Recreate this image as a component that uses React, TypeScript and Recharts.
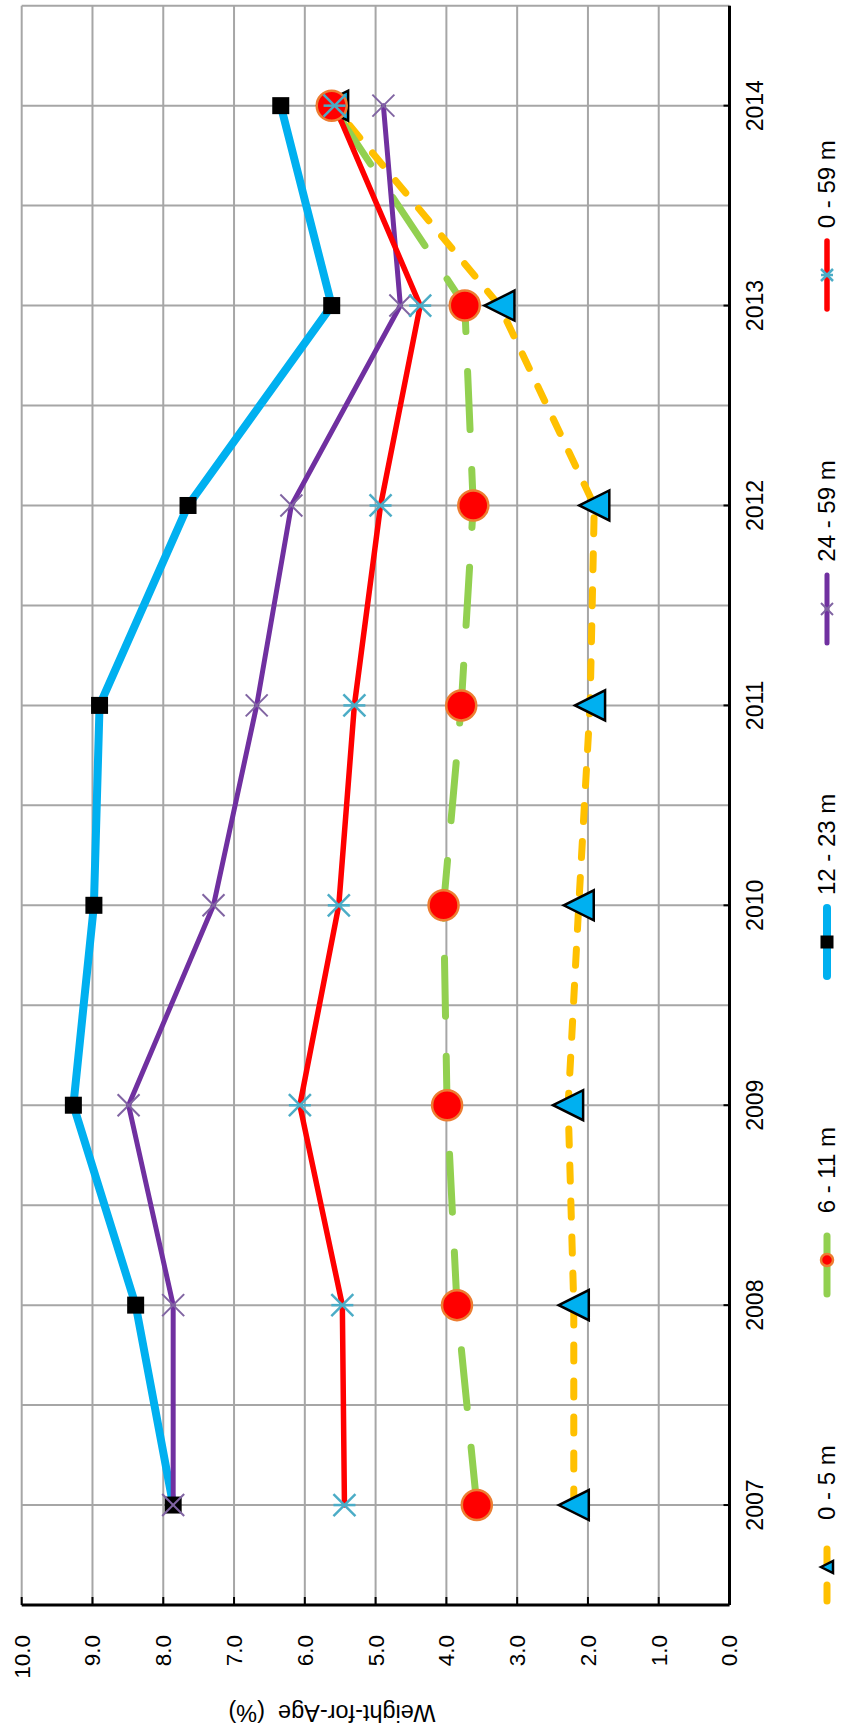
import React from "react";
import {
  LineChart,
  Line,
  XAxis,
  YAxis,
  CartesianGrid,
  Label,
} from "recharts";

// values (Weight-for-Age, %)
const years = [2007, 2008, 2009, 2010, 2011, 2012, 2013, 2014];
const age0to5 = [2.2, 2.2, 2.28, 2.13, 1.97, 1.91, 3.25, 5.6];
const age6to11 = [3.57, 3.85, 3.99, 4.04, 3.79, 3.62, 3.74, 5.62];
const age12to23 = [7.86, 8.39, 9.27, 8.98, 8.9, 7.65, 5.62, 6.34];
const age24to59 = [7.86, 7.86, 8.49, 7.29, 6.68, 6.19, 4.65, 4.89];
const age0to59 = [5.44, 5.47, 6.07, 5.52, 5.3, 4.93, 4.37, 5.58];
const valueTicks = [0, 1, 2, 3, 4, 5, 6, 7, 8, 9, 10];
const yTitle = "Weight-for-Age  (%)";

const W = 1735;
const H = 843;
const FONT = "'Liberation Sans', Arial, Helvetica, sans-serif";

const data = years.map((year, i) => ({
  year,
  a0_5: age0to5[i],
  a6_11: age6to11[i],
  a12_23: age12to23[i],
  a24_59: age24to59[i],
  a0_59: age0to59[i],
}));

// category boundaries + centres so the grid has lines at both
const yearTicks = [
  ...years.flatMap((y) => [y - 0.5, y]),
  years[years.length - 1] + 0.5,
];

// ---- marker shapes ----
const Triangle = ({ cx, cy, s = 30 }: any) => (
  <path
    d={`M${cx},${cy - s / 2} L${cx + s / 2},${cy + s / 2} L${cx - s / 2},${cy + s / 2} Z`}
    fill="#00B0F0"
    stroke="#000"
    strokeWidth={2.5}
    strokeLinejoin="miter"
  />
);
const Circle = ({ cx, cy, r = 15 }: any) => (
  <circle cx={cx} cy={cy} r={r} fill="#FF0000" stroke="#ED7D31" strokeWidth={2.5} />
);
const Square = ({ cx, cy, s = 17 }: any) => (
  <rect x={cx - s / 2} y={cy - s / 2} width={s} height={s} fill="#000" />
);
const Cross = ({ cx, cy, h = 11 }: any) => (
  <g stroke="#8064A2" strokeWidth={2}>
    <line x1={cx - h} y1={cy - h} x2={cx + h} y2={cy + h} />
    <line x1={cx - h} y1={cy + h} x2={cx + h} y2={cy - h} />
  </g>
);
const Star = ({ cx, cy, h = 11 }: any) => (
  <g stroke="#4BACC6" strokeWidth={2.5}>
    <line x1={cx - h} y1={cy - h} x2={cx + h} y2={cy + h} />
    <line x1={cx - h} y1={cy + h} x2={cx + h} y2={cy - h} />
    <line x1={cx} y1={cy - h} x2={cx} y2={cy + h} />
  </g>
);

const series = [
  {
    key: "a0_5",
    name: "0 - 5 m",
    color: "#FFC000",
    width: 7,
    dash: "16 20",
    Dot: Triangle,
  },
  {
    key: "a6_11",
    name: "6 - 11 m",
    color: "#92D050",
    width: 7,
    dash: "58 40",
    Dot: Circle,
  },
  { key: "a12_23", name: "12 - 23 m", color: "#00B0F0", width: 8, dash: undefined, Dot: Square },
  { key: "a24_59", name: "24 - 59 m", color: "#7030A0", width: 5, dash: undefined, Dot: Cross },
  { key: "a0_59", name: "0 - 59 m", color: "#FF0000", width: 5.5, dash: undefined, Dot: Star },
];

const YTick = ({ x, y, payload }: any) => (
  <g>
    <line x1={x + 30} x2={x + 38} y1={y} y2={y} stroke="#000" strokeWidth={2} />
    <text x={x} y={y} dy="0.355em" textAnchor="end" fontSize={22.5} fontFamily={FONT} fill="#000">
      {Number(payload.value).toFixed(1)}
    </text>
  </g>
);

const XTick = ({ x, y, payload }: any) => {
  if (!Number.isInteger(payload.value)) return <g />;
  return (
    <g>
      <line x1={x} x2={x} y1={y - 17} y2={y - 23} stroke="#000" strokeWidth={2} />
      <text x={x} y={y} dy="0.71em" textAnchor="middle" fontSize={23} fontFamily={FONT} fill="#000">
        {payload.value}
      </text>
    </g>
  );
};

const LegendIcon = ({ s }: any) => {
  const Dot = s.Dot;
  const small: any = { cx: 38, cy: 12 };
  if (Dot === Triangle) small.s = 12;
  if (Dot === Circle) small.r = 6;
  if (Dot === Square) small.s = 13;
  if (Dot === Cross || Dot === Star) small.h = 6;
  return (
    <svg width={76} height={24}>
      <line
        x1={4}
        x2={72}
        y1={12}
        y2={12}
        stroke={s.color}
        strokeWidth={s.width}
        strokeDasharray={s.dash}
        strokeLinecap="round"
      />
      <Dot {...small} />
    </svg>
  );
};

export default function App() {
  return (
    <div
      style={{
        position: "absolute",
        left: 0,
        top: 0,
        width: H,
        height: W,
        overflow: "hidden",
        background: "#fff",
      }}
    >
      <div
        style={{
          position: "absolute",
          left: 0,
          top: 0,
          width: W,
          height: H,
          transformOrigin: "0 0",
          transform: `translateY(${W}px) rotate(-90deg)`,
        }}
      >
        <LineChart
          width={W}
          height={H}
          data={data}
          margin={{ top: 21.7, right: 5.7, left: 30, bottom: 53.5 }}
        >
          <CartesianGrid stroke="#A6A6A6" strokeWidth={2} />
          <XAxis
            dataKey="year"
            type="number"
            domain={[2006.5, 2014.5]}
            ticks={yearTicks}
            interval={0}
            height={60}
            tickSize={0}
            tickMargin={17}
            tick={<XTick />}
            axisLine={{ stroke: "#000", strokeWidth: 3 }}
          />
          <YAxis
            type="number"
            domain={[0, 10]}
            ticks={valueTicks}
            interval={0}
            width={100}
            tickSize={0}
            tickMargin={30}
            tick={<YTick />}
            axisLine={{ stroke: "#000", strokeWidth: 3 }}
          >
            <Label
              content={() => (
                <text
                  x={22}
                  y={332}
                  transform="rotate(-90 22 332)"
                  textAnchor="middle"
                  dominantBaseline="central"
                  fontSize={23.5}
                  fontFamily={FONT}
                  fill="#000"
                  style={{ whiteSpace: "pre" }}
                >
                  {yTitle}
                </text>
              )}
            />
          </YAxis>
          {series.map((s) => (
            <Line
              key={s.key}
              type="linear"
              dataKey={s.key}
              name={s.name}
              stroke={s.color}
              strokeWidth={s.width}
              strokeDasharray={s.dash}
              strokeLinecap="round"
              strokeLinejoin="round"
              isAnimationActive={false}
              dot={(p: any) => <s.Dot key={`${s.key}-${p.index}`} cx={p.cx} cy={p.cy} />}
              activeDot={false}
            />
          ))}
        </LineChart>

        <div
          style={{
            position: "absolute",
            left: 130,
            top: 827 - 14,
            height: 28,
            display: "flex",
            alignItems: "center",
            gap: 147,
            fontFamily: FONT,
            fontSize: 24,
            color: "#000",
            whiteSpace: "pre",
          }}
        >
          {series.map((s) => (
            <div key={s.key} style={{ display: "flex", alignItems: "center" }}>
              <LegendIcon s={s} />
              <span style={{ marginLeft: 9 }}>{s.name}</span>
            </div>
          ))}
        </div>
      </div>
    </div>
  );
}
